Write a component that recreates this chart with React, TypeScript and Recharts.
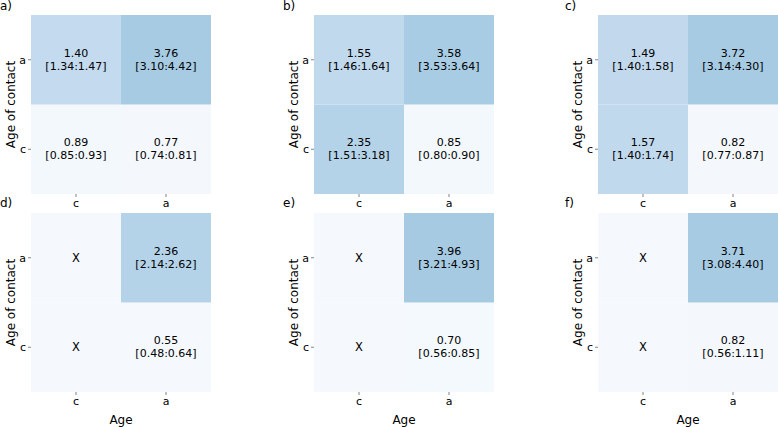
import { BarChart, Bar, XAxis, YAxis, Cell, LabelList, Label } from "recharts";

const ages = ["c", "a"];
const contactAges = ["c", "a"];
const panelNames = ["a)", "b)", "c)", "d)", "e)", "f)"];

// rows = age of contact [c, a], columns = age [c, a]; null = not estimated (X)
const meanA = [[0.89, 0.77], [1.4, 3.76]];
const lowA = [[0.85, 0.74], [1.34, 3.1]];
const highA = [[0.93, 0.81], [1.47, 4.42]];

const meanB = [[2.35, 0.85], [1.55, 3.58]];
const lowB = [[1.51, 0.8], [1.46, 3.53]];
const highB = [[3.18, 0.9], [1.64, 3.64]];

const meanC = [[1.57, 0.82], [1.49, 3.72]];
const lowC = [[1.4, 0.77], [1.4, 3.14]];
const highC = [[1.74, 0.87], [1.58, 4.3]];

const meanD = [[null, 0.55], [null, 2.36]];
const lowD = [[null, 0.48], [null, 2.14]];
const highD = [[null, 0.64], [null, 2.62]];

const meanE = [[null, 0.7], [null, 3.96]];
const lowE = [[null, 0.56], [null, 3.21]];
const highE = [[null, 0.85], [null, 4.93]];

const meanF = [[null, 0.82], [null, 3.71]];
const lowF = [[null, 0.56], [null, 3.08]];
const highF = [[null, 1.11], [null, 4.4]];

type Grid = (number | null)[][];

const colorStops: [number, number[]][] = [
  [0.5, [245, 249, 254]],
  [0.95, [243, 248, 253]],
  [1.4, [196, 218, 238]],
  [2.35, [180, 211, 232]],
  [3.9, [165, 202, 226]],
];

function cellColor(v: number | null) {
  if (v == null) return "rgb(245,249,254)";
  if (v <= colorStops[0][0]) return `rgb(${colorStops[0][1].join(",")})`;
  for (let i = 1; i < colorStops.length; i++) {
    const [v1, c1] = colorStops[i];
    const [v0, c0] = colorStops[i - 1];
    if (v <= v1) {
      const t = (v - v0) / (v1 - v0);
      const c = c0.map((x, k) => Math.round(x + (c1[k] - x) * t));
      return `rgb(${c.join(",")})`;
    }
  }
  return `rgb(${colorStops[colorStops.length - 1][1].join(",")})`;
}

const FONT = "DejaVu Sans";

const YLabel = (props: any) => {
  const vb = props.viewBox || {};
  const x = (vb.x ?? 0) + 11;
  const y = (vb.y ?? 0) + (vb.height ?? 0) / 2;
  return (
    <text x={x} y={y} transform={`rotate(-90 ${x} ${y})`} textAnchor="middle"
      dominantBaseline="central" fontSize={12} fontFamily={FONT} fill="#000">
      Age of contact
    </text>
  );
};

const XLabel = (props: any) => {
  const vb = props.viewBox || {};
  const x = (vb.x ?? 0) + (vb.width ?? 0) / 2;
  const y = (vb.y ?? 0) + 28;
  return (
    <text x={x} y={y} textAnchor="middle" dominantBaseline="central"
      fontSize={12} fontFamily={FONT} fill="#000">
      Age
    </text>
  );
};

function cellText(p: any, mean: (number | null)[], low: (number | null)[], high: (number | null)[]) {
  const vb = p.viewBox && p.viewBox.width != null ? p.viewBox : p;
  const i = p.index;
  const cx = vb.x + vb.width / 2;
  const cy = vb.y + vb.height / 2;
  const m = mean[i];
  if (m == null) {
    return (
      <text x={cx} y={cy} textAnchor="middle" dominantBaseline="central"
        fontSize={11.5} fontFamily={FONT} fill="#000">X</text>
    );
  }
  return (
    <g>
      <text x={cx} y={cy - 6.5} textAnchor="middle" dominantBaseline="central"
        fontSize={11} fontFamily={FONT} fill="#000">{m.toFixed(2)}</text>
      <text x={cx} y={cy + 6.5} textAnchor="middle" dominantBaseline="central"
        fontSize={11} fontFamily={FONT} fill="#000">
        [{(low[i] as number).toFixed(2)}:{(high[i] as number).toFixed(2)}]
      </text>
    </g>
  );
}

const PLOT_W = 180;
const PLOT_H = 179;
const Y_W = 31;

function Heatmap({ mean, low, high, plotLeft, plotTop, bottomRow }: {
  mean: Grid; low: Grid; high: Grid; plotLeft: number; plotTop: number; bottomRow: boolean;
}) {
  const data = ages.map((age) => ({ age, rowC: 1, rowA: 1 }));
  const xH = bottomRow ? 36 : 18;
  const w = Y_W + PLOT_W;
  const h = PLOT_H + xH;
  return (
    <div style={{ position: "absolute", left: plotLeft - Y_W, top: plotTop, width: w, height: h }}>
      <BarChart width={w} height={h} data={data} margin={{ top: 0, right: 0, bottom: 0, left: 0 }}
        barCategoryGap={0} barGap={0}>
        <XAxis dataKey="age" axisLine={false} tickSize={3} tickLine={{ stroke: "#666", strokeWidth: 0.8 }}
          tick={{ fill: "#000", fontSize: 11, fontFamily: FONT }} height={xH} interval={0}>
          {bottomRow ? <Label content={XLabel} /> : null}
        </XAxis>
        <YAxis type="number" domain={[0, 2]} ticks={[0.5, 1.5]} width={Y_W} axisLine={false}
          tickFormatter={(v: number) => contactAges[Math.floor(v)]} tickSize={3}
          tickLine={{ stroke: "#666", strokeWidth: 0.8 }}
          tick={{ fill: "#000", fontSize: 11, fontFamily: FONT }}>
          <Label content={YLabel} />
        </YAxis>
        {contactAges.map((ca, r) => (
          <Bar key={ca} dataKey={r === 0 ? "rowC" : "rowA"} stackId="s" isAnimationActive={false}>
            {ages.map((ag, c) => (
              <Cell key={ag} fill={cellColor(mean[r][c])} />
            ))}
            <LabelList content={(p: any) => cellText(p, mean[r], low[r], high[r])} />
          </Bar>
        ))}
      </BarChart>
    </div>
  );
}

const colLefts = [31, 314, 598];
const rowTops = [15, 213];
const letterX = [0, 283, 565];
const letterY = [9.5, 206.5];

export default function App() {
  const panels = [
    { mean: meanA, low: lowA, high: highA },
    { mean: meanB, low: lowB, high: highB },
    { mean: meanC, low: lowC, high: highC },
    { mean: meanD, low: lowD, high: highD },
    { mean: meanE, low: lowE, high: highE },
    { mean: meanF, low: lowF, high: highF },
  ];
  return (
    <div style={{ position: "absolute", left: 0, top: 0, width: 778, height: 427, background: "#fff", overflow: "hidden" }}>
      {panels.map((p, i) => (
        <Heatmap key={i} {...p} plotLeft={colLefts[i % 3]} plotTop={rowTops[Math.floor(i / 3)]}
          bottomRow={i >= 3} />
      ))}
      <svg width={778} height={427} style={{ position: "absolute", left: 0, top: 0, pointerEvents: "none" }}>
        {panelNames.map((n, i) => (
          <text key={n} x={letterX[i % 3]} y={letterY[Math.floor(i / 3)]} fontSize={12}
            fontFamily={FONT} fill="#000">{n}</text>
        ))}
      </svg>
    </div>
  );
}
